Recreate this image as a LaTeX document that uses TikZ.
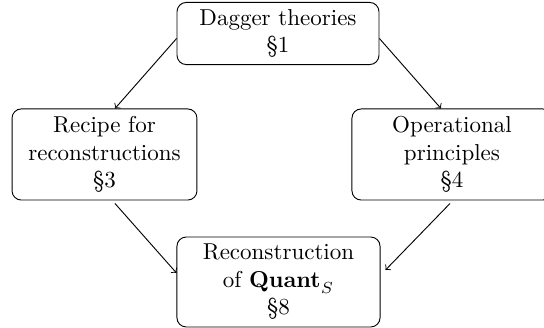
\documentclass[tikz,border=0pt]{standalone}
\usetikzlibrary{calc}
\begin{document}
\begin{tikzpicture}[x=0.4348pt,y=-0.4348pt,
  box/.style={draw, rounded corners=4pt, align=center, inner sep=0pt},
  conn/.style={->}]
\useasboundingbox (0,0) rectangle (544,328);
\node[box, minimum width=87.8pt, minimum height=27pt] (top) at (278,33.5) {Dagger theories\\\S1};
\node[box, minimum width=80.4pt, minimum height=39.6pt] (left) at (104.5,154.5) {Recipe for\\reconstructions\\\S3};
\node[box, minimum width=87pt, minimum height=39.6pt] (right) at (452,154.5) {Operational\\principles\\\S4};
\node[box, minimum width=88.3pt, minimum height=39.1pt] (bottom) at (278.5,282) {Reconstruction\\of $\mathbf{Quant}_S$\\\S8};
\draw[conn] ($(top.west)+(0,5)$) -- ($(left.north)+(10.5,0)$);
\draw[conn] ($(top.east)+(0,5)$) -- ($(right.north)+(-11,0)$);
\draw[conn] ($(left.south)+(10.5,3)$) -- ($(bottom.west)+(0,-9)$);
\draw[conn] ($(right.south)+(-2,3)$) -- ($(bottom.east)+(5,-12)$);
\end{tikzpicture}
\end{document}
